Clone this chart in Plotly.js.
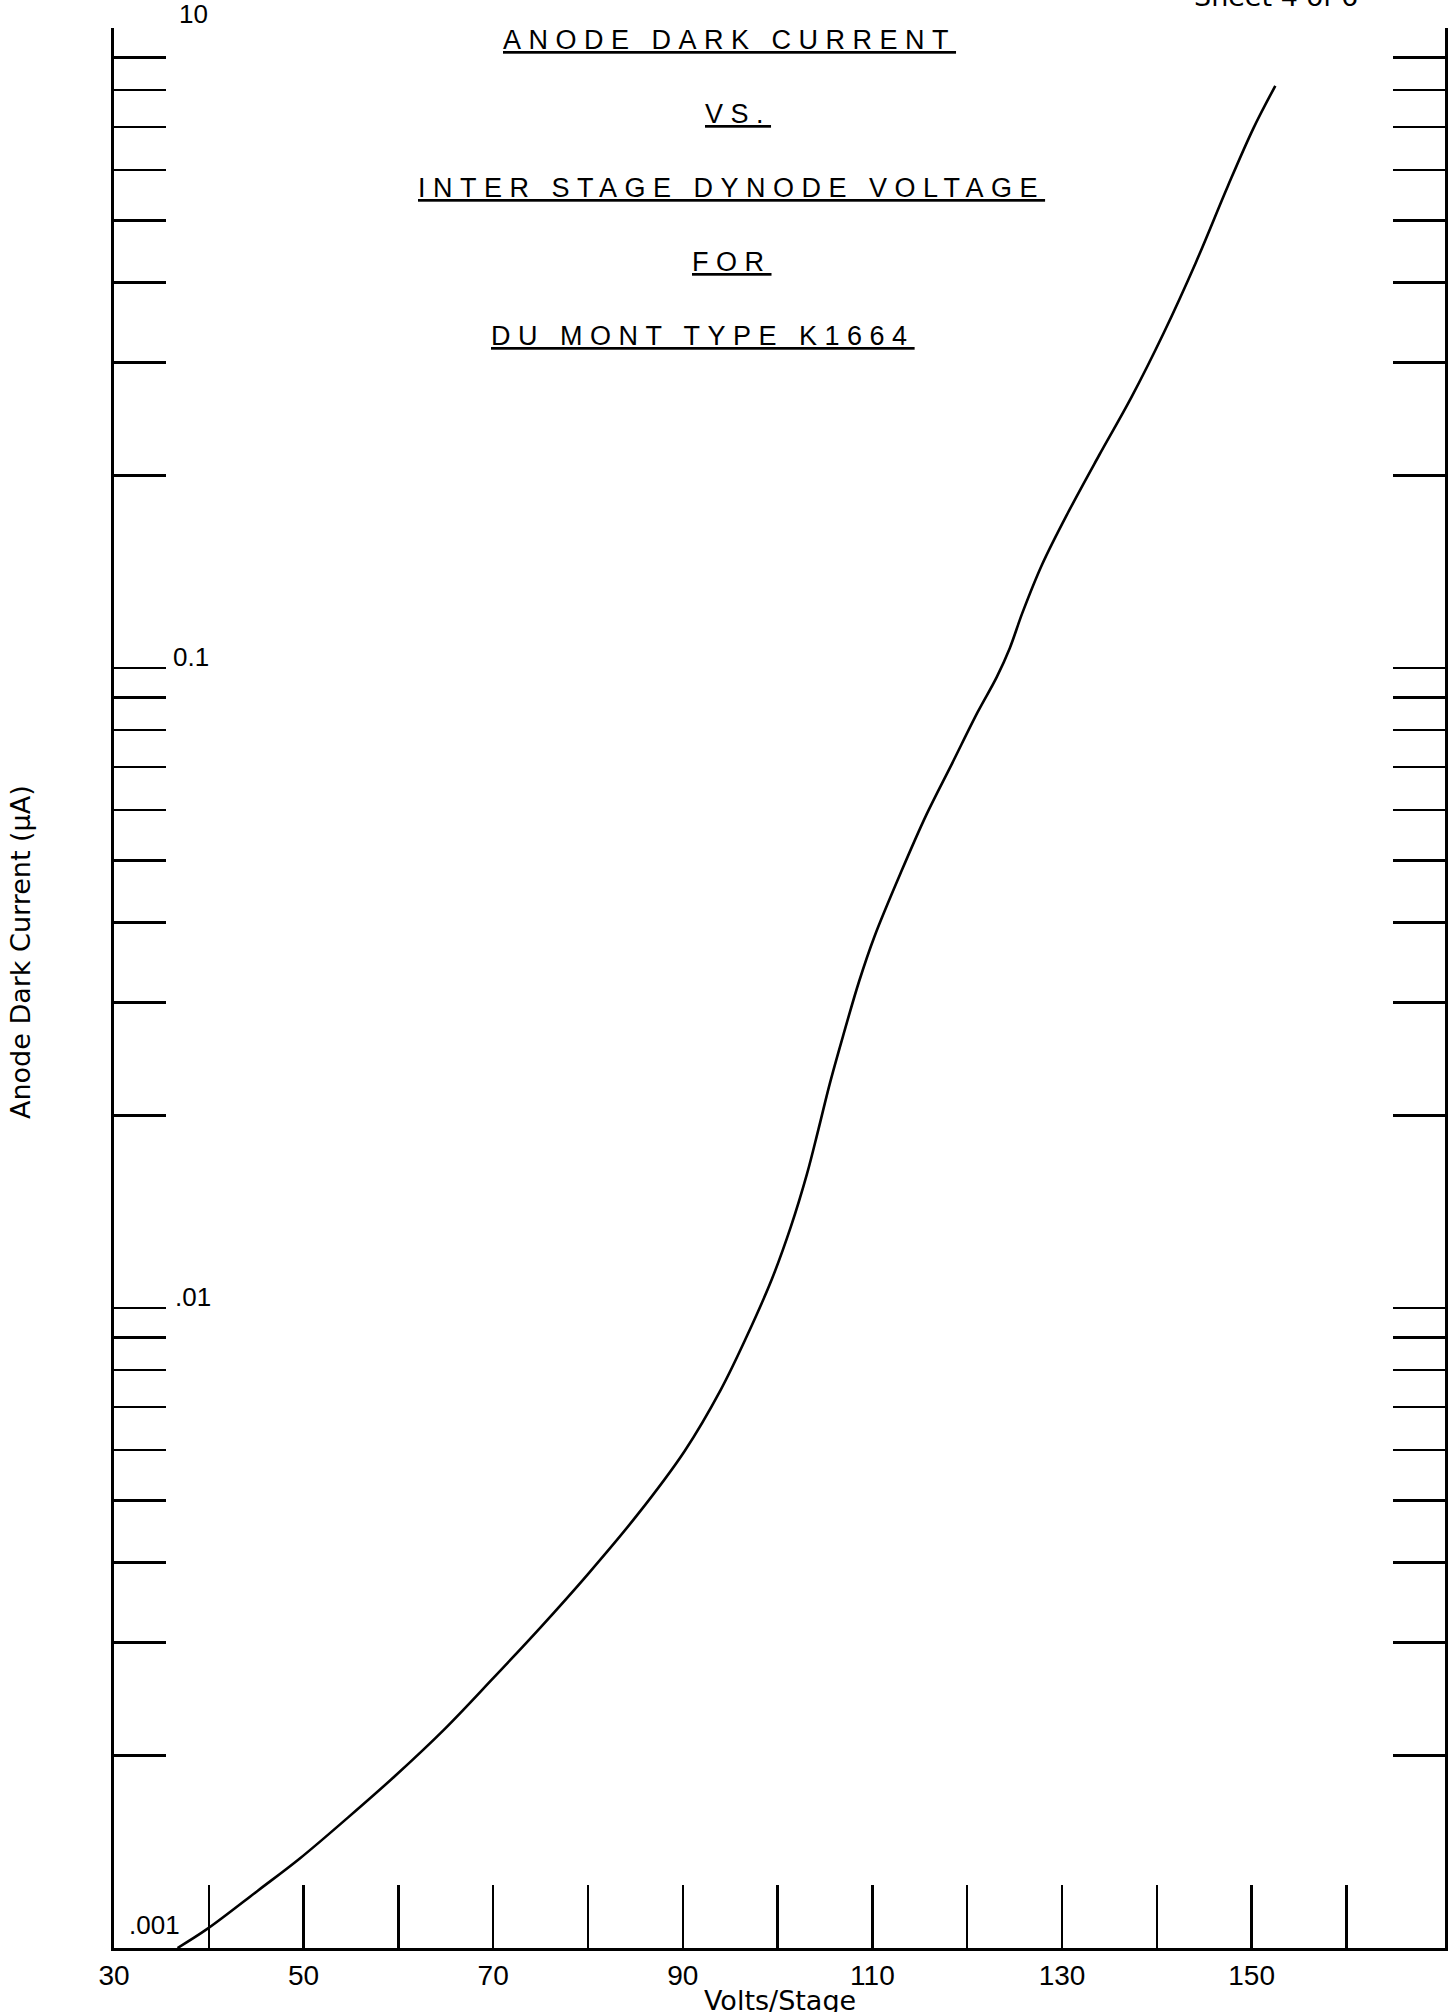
<!DOCTYPE html>
<html>
<head>
<meta charset="utf-8">
<script src="https://cdn.plot.ly/plotly-3.0.1.min.js"></script>
<style>
  html, body { margin: 0; padding: 0; background: #ffffff; }
  #chart { width: 1454px; height: 2012px; }
</style>
</head>
<body>
<div id="chart"></div>
<script>
// ---- data ----
const voltsPerStage = [36.7, 39.8, 45.2, 49.6, 54.7, 59.7, 64.9, 70.0, 75.0, 80.0,
  85.2, 90.2, 94.0, 96.7, 99.4, 101.4, 103.1, 104.3, 105.5, 106.9,
  108.6, 110.2, 113.0, 115.7, 118.4, 121.1, 123.1, 124.5, 125.8, 127.9,
  130.6, 133.9, 137.3, 140.7, 144.1, 147.5, 150.2, 152.5];
const darkCurrent = [0.00100, 0.00107, 0.00123, 0.00138, 0.00160, 0.00186, 0.00220, 0.00264, 0.00317, 0.00384,
  0.00475, 0.00598, 0.00745, 0.00900, 0.0111, 0.0134, 0.0162, 0.0190, 0.0224, 0.0266,
  0.0324, 0.0380, 0.0479, 0.0590, 0.0709, 0.0853, 0.0967, 0.1075, 0.1217, 0.1451,
  0.1745, 0.2148, 0.2645, 0.3332, 0.4295, 0.5665, 0.6975, 0.812];

const xTickVals = [30, 40, 50, 60, 70, 80, 90, 100, 110, 120, 130, 140, 150, 160];
const xTickText = ['30', '', '50', '', '70', '', '90', '', '110', '', '130', '', '150', ''];

const yLabelVals = [0.001, 0.01, 0.1, 1];
const yLabelText = ['.001', '.01', '0.1', '10'];

const titleLines = ['ANODE DARK CURRENT', 'VS.', 'INTER STAGE DYNODE VOLTAGE', 'FOR', 'DU MONT TYPE K1664'];
const xTitle = 'Volts/Stage';
const yTitle = 'Anode Dark Current (µA)';
const sheetText = 'Sheet 4 of 6';

// ---- log-cycle tick positions (1..9 per decade) ----
const yTickVals = [];
for (let k = -3; k <= -1; k++) {
  for (let m = 1; m <= 9; m++) yTickVals.push(m * Math.pow(10, k));
}
yTickVals.push(1);

const W = 1454, H = 2012;
const M = { l: 114, r: 9, t: 28, b: 64 };
const plotW = W - M.l - M.r, plotH = H - M.t - M.b;
const px2xp = px => (px - M.l) / plotW;
const px2yp = py => (H - M.b - py) / plotH;

const numFont = { family: 'Liberation Sans Narrow, Liberation Sans, Arial, sans-serif', size: 28, color: '#000' };
const labelFont = { family: 'Liberation Sans, Arial, sans-serif', size: 26, color: '#000' };
const textFont = { family: 'DejaVu Sans, sans-serif', size: 27, color: '#000' };

const annotations = [];

// y decade labels (inside the plot, just above each decade tick)
const yLabelX = [127, 173, 171, 177];
const yLabelShift = [6, -6, -6, -3];
yLabelVals.forEach((v, i) => {
  annotations.push({
    xref: 'paper', yref: 'y', x: px2xp(yLabelX[i]), y: Math.log10(v),
    text: yLabelText[i], showarrow: false, xanchor: 'left', yanchor: 'bottom',
    yshift: yLabelShift[i], font: labelFont
  });
});

// title block
const titleCx = [729, 738, 731, 732, 703];
const titleBottom = [57, 131, 205, 279, 353];
titleLines.forEach((t, i) => {
  annotations.push({
    xref: 'paper', yref: 'paper', x: px2xp(titleCx[i]), y: px2yp(titleBottom[i]),
    text: '<span style="letter-spacing:7.5px;text-decoration:underline;text-decoration-thickness:2.5px">' + t + '</span>',
    showarrow: false, xanchor: 'center', yanchor: 'bottom',
    font: { family: 'Liberation Sans, Arial, sans-serif', size: 27, color: '#000' }
  });
});

// axis titles
annotations.push({
  xref: 'paper', yref: 'paper', x: px2xp(21), y: px2yp(952),
  text: yTitle, textangle: -90, showarrow: false, xanchor: 'center', yanchor: 'middle',
  font: textFont
});
annotations.push({
  xref: 'paper', yref: 'paper', x: px2xp(780), y: px2yp(1983),
  text: xTitle, showarrow: false, xanchor: 'center', yanchor: 'top',
  font: textFont
});
// sheet marker (cut off at top edge, as in the reference)
annotations.push({
  xref: 'paper', yref: 'paper', x: px2xp(1276), y: px2yp(14),
  text: sheetText, showarrow: false, xanchor: 'center', yanchor: 'bottom',
  font: textFont
});

const trace = {
  x: voltsPerStage, y: darkCurrent, type: 'scatter', mode: 'lines',
  line: { color: '#000', width: 2.6, shape: 'spline', smoothing: 1 },
  cliponaxis: false, hoverinfo: 'skip', showlegend: false
};

const layout = {
  width: W, height: H,
  margin: M,
  paper_bgcolor: '#fff', plot_bgcolor: '#fff',
  showlegend: false,
  xaxis: {
    range: [30, 170.4], showgrid: false, zeroline: false,
    showline: true, linecolor: '#000', linewidth: 3, mirror: false,
    ticks: 'inside', ticklen: 63, tickwidth: 2.5, tickcolor: '#000',
    tickmode: 'array', tickvals: xTickVals, ticktext: xTickText,
    tickfont: numFont
  },
  yaxis: {
    type: 'log', range: [-3, 0], showgrid: false, zeroline: false,
    showline: true, linecolor: '#000', linewidth: 3, mirror: 'ticks',
    ticks: 'inside', ticklen: 52, tickwidth: 2.5, tickcolor: '#000',
    tickmode: 'array', tickvals: yTickVals, showticklabels: false
  },
  annotations: annotations
};

Plotly.newPlot('chart', [trace], layout, { staticPlot: true, displayModeBar: false });
</script>
</body>
</html>
